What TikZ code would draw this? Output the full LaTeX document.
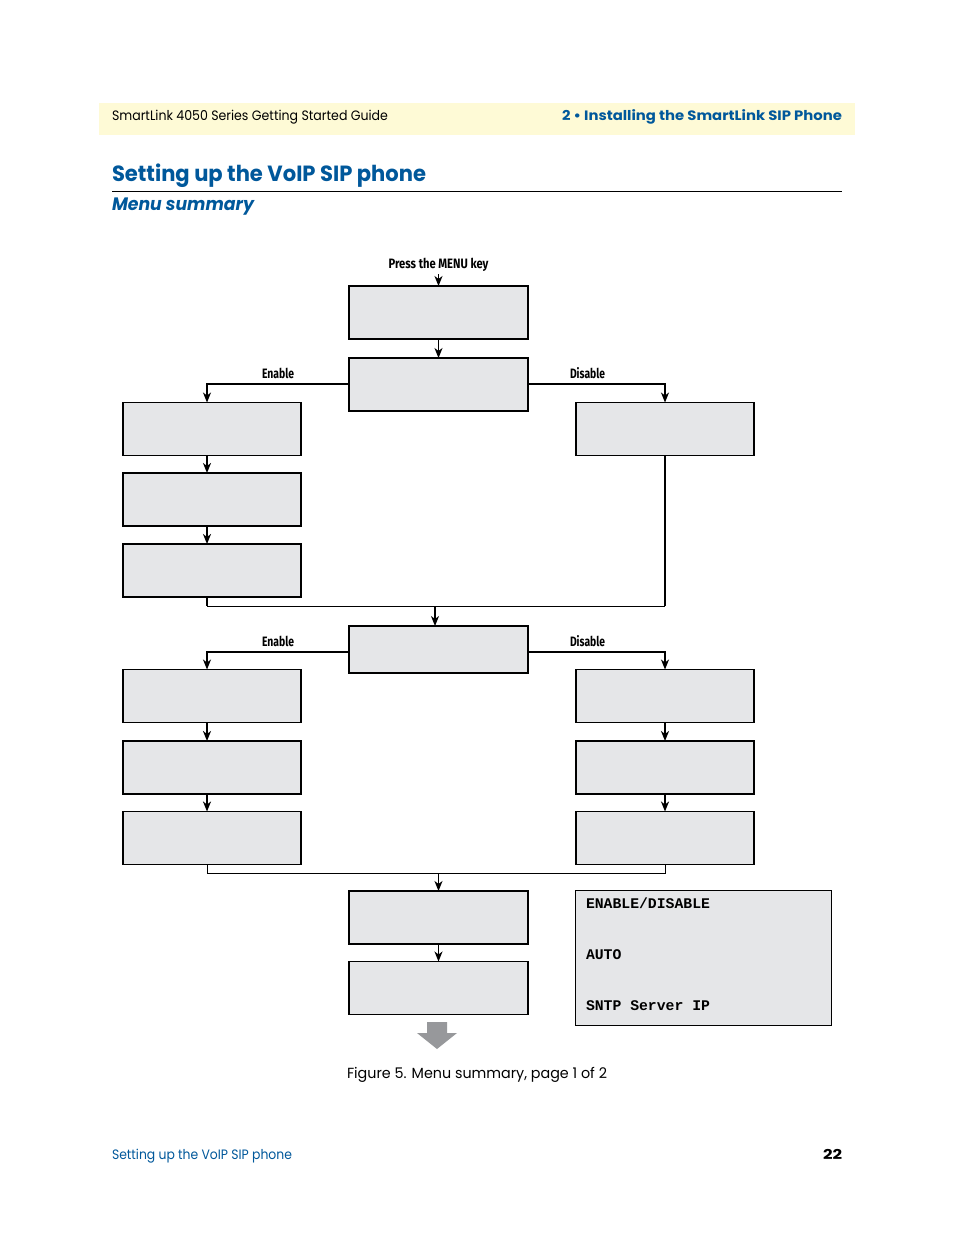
\documentclass[tikz,border=0pt]{standalone}
\usepackage{fontspec}
\usepackage{graphicx}
\setmainfont{Poppins}
\newfontfamily\condfont{Fira Sans}
\newfontfamily\monofont{Liberation Mono}
\usetikzlibrary{arrows.meta}
\newlength\px \setlength\px{.75pt}
\newcommand{\fit}[2]{\resizebox{#1\px}{\height}{#2}}
\definecolor{blueT}{HTML}{00589B}
\definecolor{boxfill}{HTML}{E5E6E8}
\definecolor{band}{HTML}{FEFAD6}
\definecolor{arrowgrey}{HTML}{97989B}
\tikzset{
  x=.75pt,y=-.75pt,
  boxbase/.style={draw=black,fill=boxfill,inner sep=0pt,outer sep=0pt,minimum width=178*.75pt},
  thickbox/.style={boxbase,line width=2*.75pt},
  thinbox/.style={boxbase,line width=1.2*.75pt},
  midwide/.style={minimum width=179*.75pt},
  conn/.style={line width=1.3*.75pt,-{Stealth[length=10*.75pt,width=8*.75pt,inset=3*.75pt]}},
  joinline/.style={line width=1.0*.75pt},
  stub/.style={line width=1.8*.75pt},
  txt/.style={inner sep=0pt,outer sep=0pt,anchor=base west},
  lab/.style={inner sep=0pt,outer sep=0pt,anchor=base,font=\condfont\bfseries\fontsize{10.2pt}{12pt}\selectfont},
  mono/.style={inner sep=0pt,outer sep=0pt,anchor=base west,font=\monofont\bfseries\fontsize{11.07pt}{13pt}\selectfont},
}
\begin{document}
\begin{tikzpicture}
\useasboundingbox (0,0) rectangle (954,1235);
\fill[white] (0,0) rectangle (954,1235);
% page furniture
\fill[band] (99,103) rectangle (855,135);
\node[txt,font=\fontsize{10.2pt}{12pt}\selectfont] (hl) at (112,120) {\fit{276}{SmartLink 4050 Series Getting Started Guide}};
\node[txt,font=\bfseries\fontsize{10.2pt}{12pt}\selectfont,text=blueT] (hr) at (562,120) {\fit{280}{2 • Installing the SmartLink SIP Phone}};
\node[txt,font=\bfseries\fontsize{16.5pt}{18pt}\selectfont,text=blueT] (title) at (112,181) {\fit{314}{Setting up the VoIP SIP phone}};
\draw[line width=.9*.75pt] (112,191.5) -- (842,191.5);
\node[txt,font=\bfseries\itshape\fontsize{13.5pt}{15pt}\selectfont,text=blueT] (sub) at (112,210) {\fit{142}{Menu summary}};
\node[txt,font=\fontsize{11pt}{13pt}\selectfont] (cap) at (347,1078) {\fit{260}{Figure 5. Menu summary, page 1 of 2}};
\node[txt,font=\fontsize{10.2pt}{12pt}\selectfont,text=blueT] (fl) at (112,1159) {\fit{180}{Setting up the VoIP SIP phone}};
\node[txt,font=\bfseries\fontsize{10.2pt}{12pt}\selectfont] (fr) at (823,1159) {\fit{19}{22}};
% guide coordinates
\coordinate (cL) at (207,0);
\coordinate (cM) at (438.5,0);
\coordinate (cN) at (435,0);
\coordinate (cR) at (665,0);
\coordinate (yA) at (0,384);
\coordinate (yB) at (0,652);
\coordinate (yC) at (0,606);
\coordinate (yD) at (0,873);
% boxes
\node[thickbox,midwide,minimum height=53*.75pt] (m1) at (438.5,312.5) {};
\node[thickbox,midwide,minimum height=53*.75pt] (m2) at (438.5,384.5) {};
\node[thinbox,minimum height=53*.75pt] (l1) at (212,429) {};
\node[thickbox,minimum height=53*.75pt] (l2) at (212,499.5) {};
\node[thickbox,minimum height=53*.75pt] (l3) at (212,570.5) {};
\node[thinbox,minimum height=53*.75pt] (r1) at (665,429) {};
\node[thickbox,midwide,minimum height=47*.75pt,line width=1.6*.75pt] (c) at (438.5,649.5) {};
\node[thinbox,minimum height=53*.75pt] (l4) at (212,696) {};
\node[thickbox,minimum height=53*.75pt] (l5) at (212,767.5) {};
\node[thinbox,minimum height=53*.75pt] (l6) at (212,838) {};
\node[thinbox,minimum height=53*.75pt] (r4) at (665,696) {};
\node[thickbox,minimum height=53*.75pt] (r5) at (665,767.5) {};
\node[thinbox,minimum height=53*.75pt] (r6) at (665,838) {};
\node[thickbox,midwide,minimum height=53*.75pt] (b1) at (438.5,917.5) {};
\node[thinbox,midwide,minimum height=53*.75pt] (b2) at (438.5,988) {};
\node[thinbox,minimum width=256*.75pt,minimum height=135*.75pt] (info) at (703.5,958) {};
% labels
\node[lab] (press) at (438.5,268) {\fit{100}{Press the MENU key}};
\node[lab] (en1) at (278,378) {\fit{32}{Enable}};
\node[lab] (dis1) at (587.5,378) {\fit{35}{Disable}};
\node[lab] (en2) at (278,646) {\fit{32}{Enable}};
\node[lab] (dis2) at (587.5,646) {\fit{35}{Disable}};
\node[mono] (t1) at (586,908) {ENABLE/DISABLE};
\node[mono] (t2) at (586,959) {AUTO};
\node[mono] (t3) at (586,1010) {SNTP Server IP};
% connectors
\coordinate (pressEnd) at (438.5,274);
\draw[conn] (pressEnd) -- (m1.north);
\draw[conn] (m1.south) -- (m2.north);
\draw[conn] (m2.west |- yA) -| (l1.north -| cL);
\draw[conn] (m2.east |- yA) -| (r1.north);
\draw[conn,line width=2*.75pt] (l1.south -| cL) -- (l2.north -| cL);
\draw[conn,line width=2*.75pt] (l2.south -| cL) -- (l3.north -| cL);
\draw[joinline] (l3.south -| cL) |- (cR |- yC);
\draw[stub] (l3.south -| cL) -- (cL |- yC);
\draw[conn,-] (cR |- yC) -- (r1.south);
\draw[conn] (cN |- yC) -- (c.north -| cN);
\draw[conn] (c.west |- yB) -| (l4.north -| cL);
\draw[conn] (c.east |- yB) -| (r4.north);
\draw[conn,line width=2*.75pt] (l4.south -| cL) -- (l5.north -| cL);
\draw[conn,line width=2*.75pt] (l5.south -| cL) -- (l6.north -| cL);
\draw[conn,line width=2*.75pt] (r4.south) -- (r5.north);
\draw[conn,line width=2*.75pt] (r5.south) -- (r6.north);
\draw[joinline] (l6.south -| cL) |- (cR |- yD) -- (r6.south);
\draw[conn] (cM |- yD) -- (b1.north);
\draw[conn] (b1.south) -- (b2.north);
% continuation arrow
\fill[arrowgrey] (427,1022) -- (447,1022) -- (447,1033) -- (457,1033) -- (437,1049) -- (417,1033) -- (427,1033) -- cycle;
\end{tikzpicture}
\end{document}
